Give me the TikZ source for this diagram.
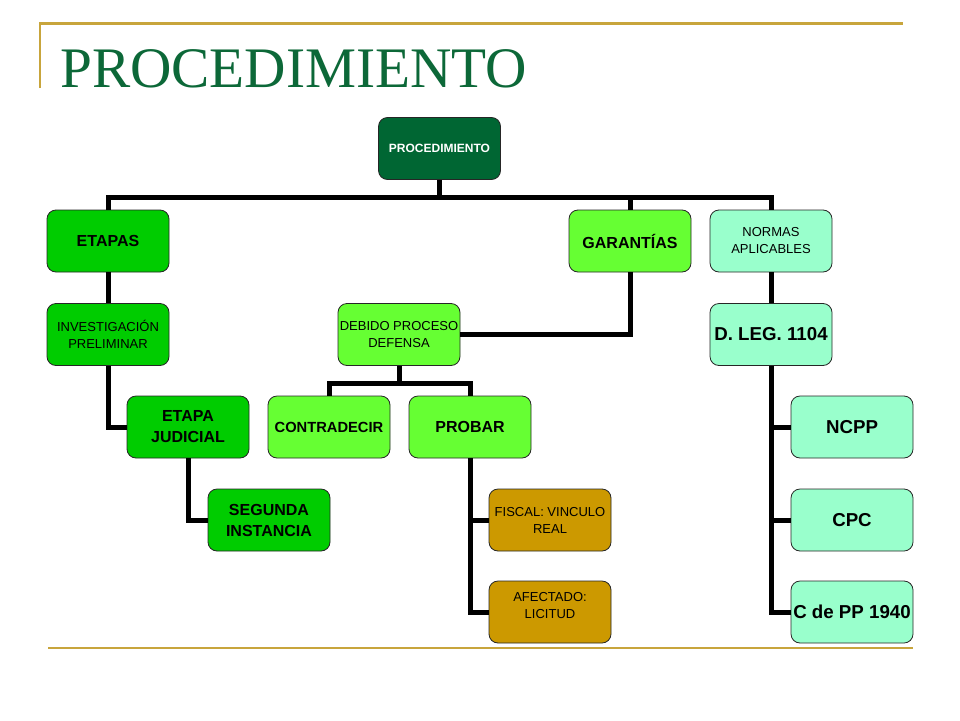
\documentclass[tikz,border=0pt]{standalone}
\usepackage{fontspec}
\setmainfont{Liberation Sans}
\newfontfamily\titlefont{Liberation Serif}
\definecolor{darkbox}{RGB}{0,102,51}
\definecolor{titlegreen}{RGB}{12,104,56}
\definecolor{greenA}{RGB}{0,204,0}
\definecolor{greenB}{RGB}{102,255,51}
\definecolor{mintC}{RGB}{153,255,204}
\definecolor{ochreD}{RGB}{204,153,0}
\definecolor{goldline}{RGB}{200,165,60}
\tikzset{
  box/.style={draw=black!85, line width=0.8pt, rounded corners=9pt,
    minimum width=122pt, minimum height=62pt, inner sep=1pt, align=center},
  bigB/.style={font=\bfseries\fontsize{16}{21}\selectfont},
  smallR/.style={font=\fontsize{13}{17}\selectfont},
  hugeB/.style={font=\bfseries\fontsize{18.7}{22}\selectfont},
  midB/.style={font=\bfseries\fontsize{14.7}{18}\selectfont},
  conn/.style={line width=5pt, black},
}
\begin{document}
\begin{tikzpicture}[x=1pt,y=-1pt]
\useasboundingbox (0,0) rectangle (960,720);
\fill[white] (0,0) rectangle (960,720);
% decorative lines
\draw[goldline, line width=2.5pt] (40,88) -- (40,23.5) -- (903,23.5);
\draw[goldline, line width=2.5pt] (48,648) -- (913,648);
% title
\node[anchor=base west, inner sep=0, text=titlegreen,
  font=\titlefont\fontsize{57.3}{60}\selectfont] (title) at (60,87) {PROCEDIMIENTO};
% nodes
\node[box, fill=darkbox, text=white, font=\bfseries\fontsize{12}{14}\selectfont] (proc) at (439.5,148.5) {PROCEDIMIENTO};
\node[box, fill=greenA, bigB] (etapas) at (108,241) {ETAPAS};
\node[box, fill=greenB, bigB] (garant) at (630,241) {GARANTÍAS};
\node[box, fill=mintC, smallR] (normas) at (771,241) {NORMAS\\APLICABLES};
\node[box, fill=greenA, smallR] (invest) at (108,334.5) {INVESTIGACIÓN\\PRELIMINAR};
\node[box, fill=greenB, smallR] (debido) at (399,334.5) {DEBIDO PROCESO\\DEFENSA};
\node[box, fill=mintC, hugeB] (dleg) at (771,334.5) {D. LEG. 1104};
\node[box, fill=greenA, bigB] (ejud) at (188,427) {ETAPA\\JUDICIAL};
\node[box, fill=greenB, midB] (contra) at (329,427) {CONTRADECIR};
\node[box, fill=greenB, bigB] (probar) at (470,427) {PROBAR};
\node[box, fill=mintC, hugeB] (ncpp) at (852,427) {NCPP};
\node[box, fill=greenA, bigB] (segunda) at (269,520) {SEGUNDA\\INSTANCIA};
\node[box, fill=ochreD, smallR] (fiscal) at (550,520) {FISCAL: VINCULO\\REAL};
\node[box, fill=mintC, hugeB] (cpc) at (852,520) {CPC};
\node[box, fill=ochreD, smallR, text depth=14pt] (afect) at (550,612) {AFECTADO:\\LICITUD};
\node[box, fill=mintC, hugeB] (cdepp) at (852,612) {C de PP 1940};
% connectors
\coordinate (bar) at (439.5,197);
\draw[conn] (proc.south) -- (bar);
\draw[conn] (etapas.north) |- (bar) -| (normas.north);
\draw[conn] (bar -| garant.north) -- (garant.north);
\draw[conn] (etapas.south) -- (invest.north);
\draw[conn] (invest.south) |- (ejud.west);
\draw[conn] (ejud.south) |- (segunda.west);
\draw[conn] (garant.south) |- (debido.east);
\coordinate (dbar) at (399,383);
\draw[conn] (debido.south) -- (dbar);
\draw[conn] (contra.north) |- (dbar) -| (probar.north);
\draw[conn] (probar.south) |- (afect.west);
\draw[conn] (probar.south |- fiscal.west) -- (fiscal.west);
\draw[conn] (normas.south) -- (dleg.north);
\draw[conn] (dleg.south) |- (cdepp.west);
\draw[conn] (dleg.south |- ncpp.west) -- (ncpp.west);
\draw[conn] (dleg.south |- cpc.west) -- (cpc.west);
\end{tikzpicture}
\end{document}
